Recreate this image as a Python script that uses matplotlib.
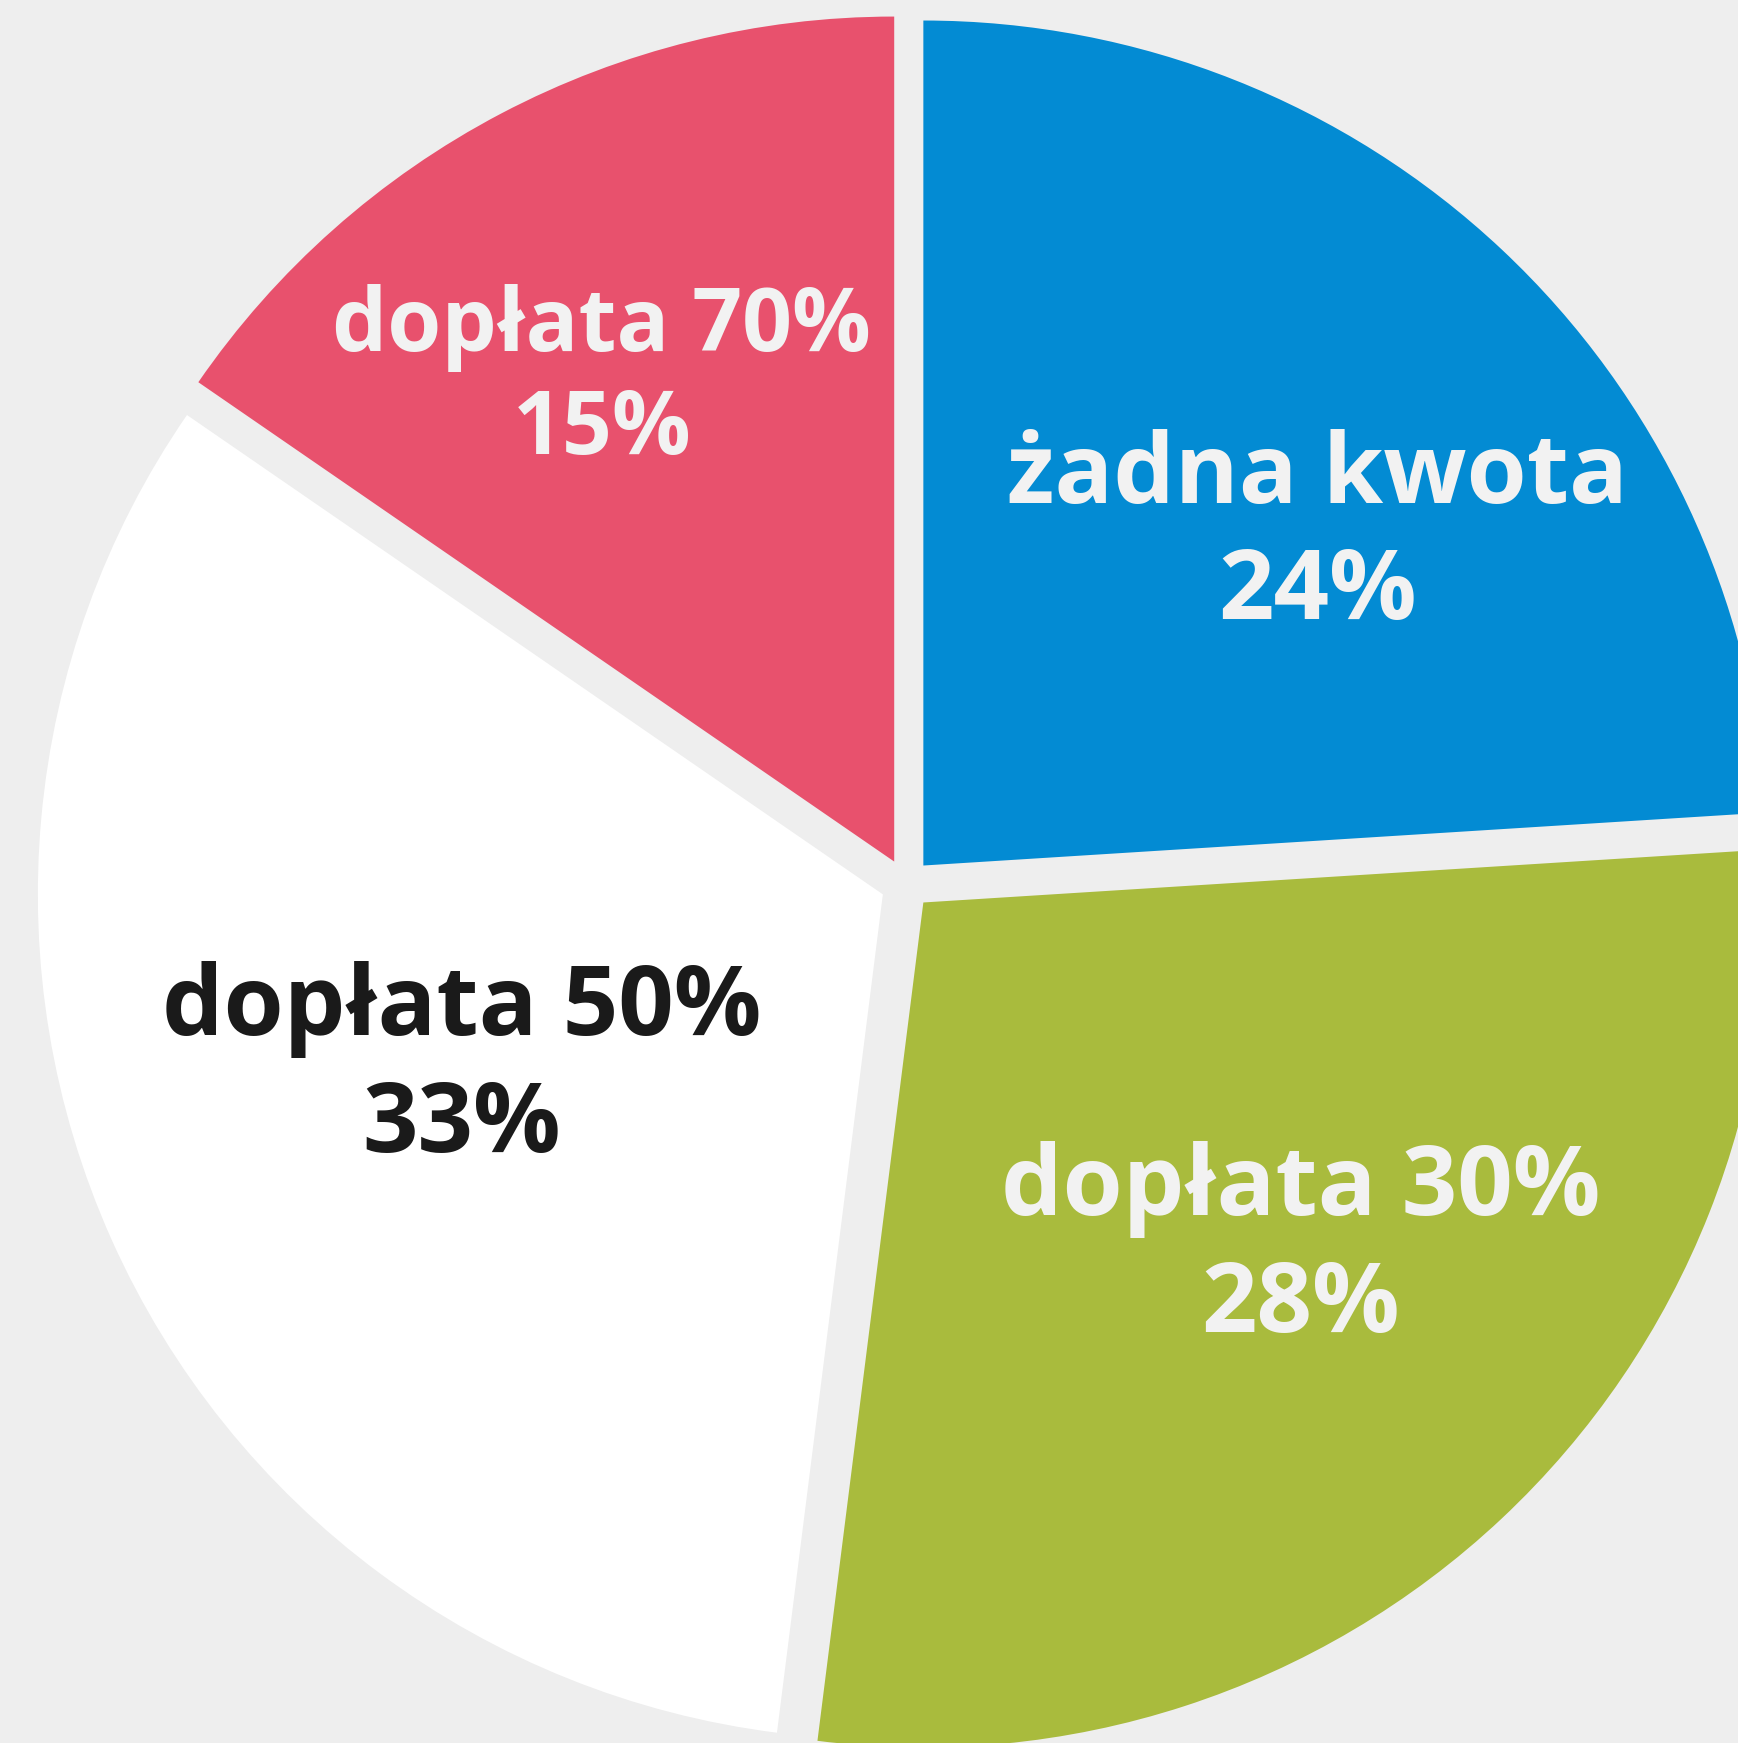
import numpy as np
import matplotlib.pyplot as plt

# dane
kategorie = ['żadna kwota', 'dopłata 30%', 'dopłata 50%', 'dopłata 70%']
udzialy = [24, 28, 32.6, 15.4]
kolory = ['#038bd3', '#a9bb3d', '#ffffff', '#e8516d']
kolory_tekstu = ['#f2f2f2', '#f2f2f2', '#1a1a1a', '#f2f2f2']

# polozenie etykiet: odleglosc od srodka (czesc promienia) i kat w stopniach
odleglosc_etykiet = [0.638, 0.635, 0.5695, 0.697]
kat_etykiet = [40.3, -42.7, 202.5, 121.1]
rozmiar = [70, 70, 70, 63]
odstep = [0.138, 0.138, 0.138, 0.122]

plt.rcParams['font.family'] = ['Open Sans', 'DejaVu Sans']

fig = plt.figure(figsize=(17.38, 17.43), dpi=100)
fig.patch.set_facecolor('#eeeeee')
ax = fig.add_axes([0, 0, 1, 1])
ax.set_facecolor('#eeeeee')

wedges, _ = ax.pie(udzialy, colors=kolory, startangle=90, counterclock=False,
                   explode=[0.03] * 4, radius=1.0)

# etykiety w srodku wycinkow
for kat, u, kt, d, a, fs, s in zip(kategorie, udzialy, kolory_tekstu,
                                   odleglosc_etykiet, kat_etykiet, rozmiar, odstep):
    x = d * np.cos(np.deg2rad(a))
    y = d * np.sin(np.deg2rad(a))
    ax.text(x, y + s / 2, kat, ha='center', va='center', color=kt,
            fontsize=fs, fontweight='bold')
    ax.text(x, y - s / 2, f'{round(u)}%', ha='center', va='center', color=kt,
            fontsize=fs, fontweight='bold')

ax.set_xlim(-906 / 845, (1738 - 906) / 845)
ax.set_ylim(-(1743 - 884) / 845, 884 / 845)
ax.set_aspect('auto')
ax.axis('off')

plt.savefig('out.png', dpi=100, facecolor=fig.get_facecolor())
